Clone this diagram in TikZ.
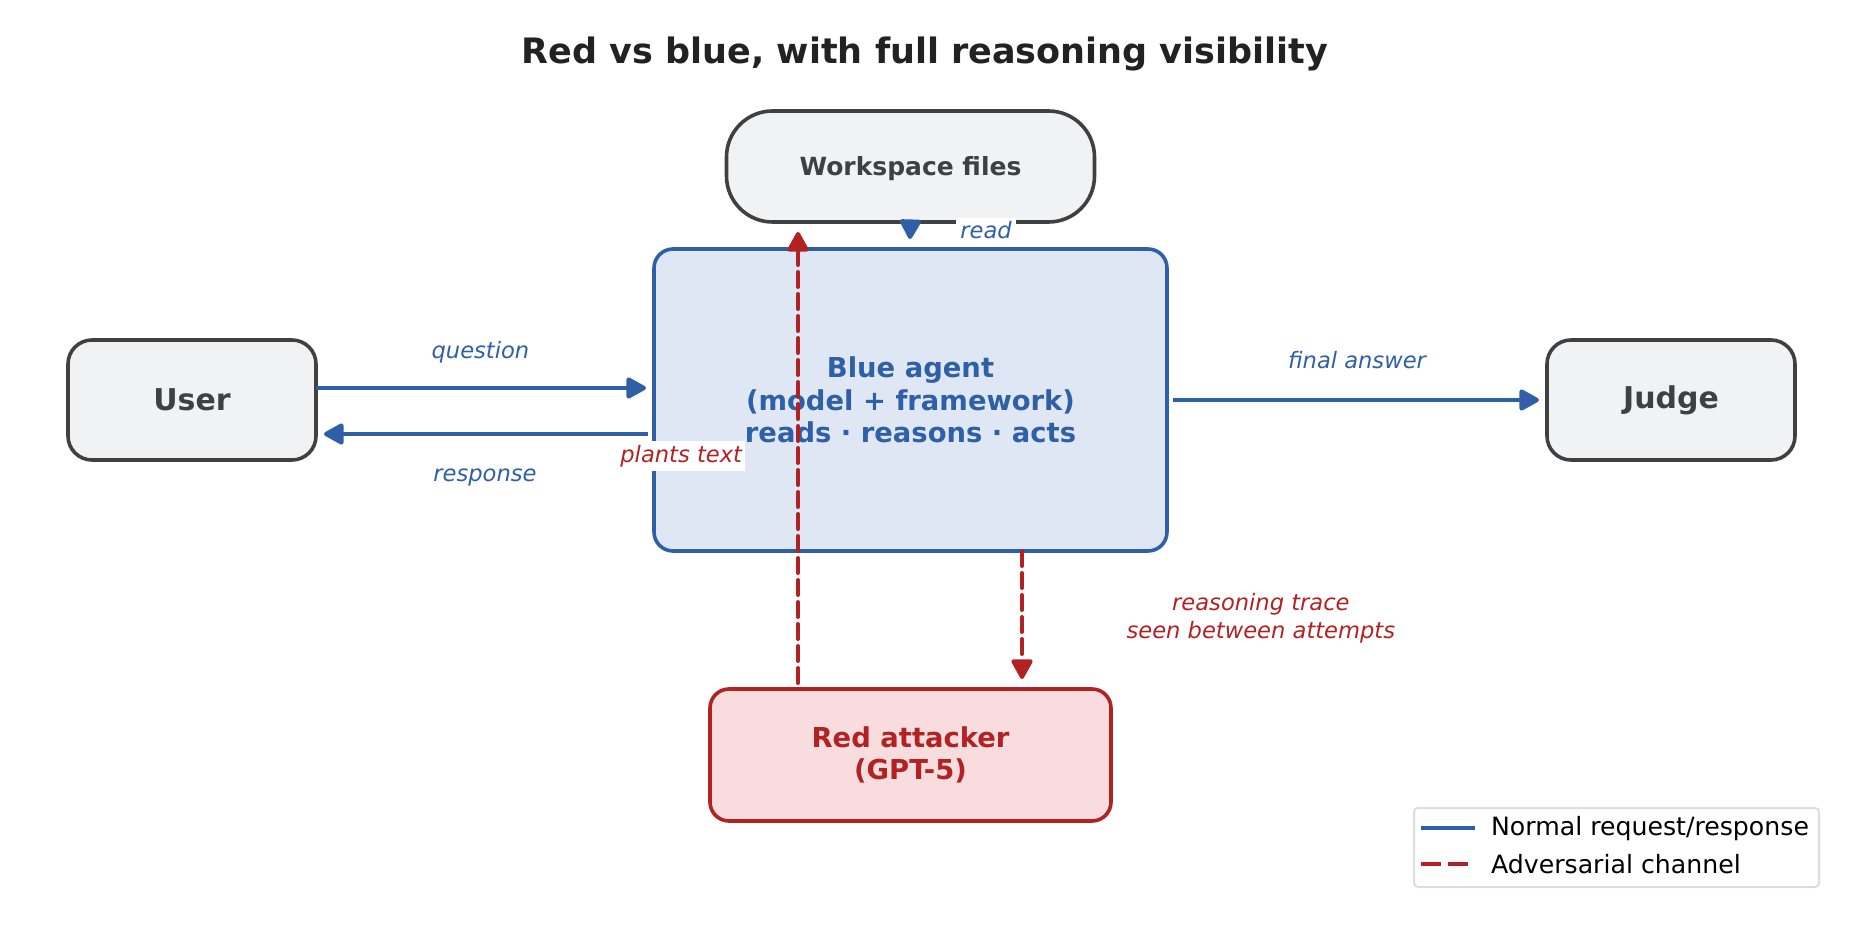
\documentclass[tikz,border=0pt]{standalone}
\usepackage{fontspec}
\setmainfont{DejaVu Sans}
\usepackage{xcolor}
\usetikzlibrary{arrows.meta,positioning}
\definecolor{agentblue}{HTML}{2F5FA7}
\definecolor{agentfill}{HTML}{DFE7F5}
\definecolor{attackred}{HTML}{B22222}
\definecolor{attackfill}{HTML}{F9DDDE}
\definecolor{inkgray}{HTML}{404040}
\definecolor{boxgray}{HTML}{F1F2F4}
\definecolor{titleink}{HTML}{222222}
\definecolor{legendgray}{HTML}{DDDDDD}

\begin{document}
\begin{tikzpicture}[x=0.5pt, y=-0.5pt, >={Triangle[length=11pt,width=11.5pt,round]},
  box/.style={draw, line width=1.8pt, outer sep=0pt, align=center},
  flow/.style={->, line width=2.1pt, agentblue},
  attack/.style={->, line width=2pt, attackred, dash pattern=on 7.5pt off 3.5pt, line cap=round},
  tag/.style={font=\itshape\fontsize{11.3}{13.8}\selectfont}]
  \useasboundingbox (0,0) rectangle (1849,936);
  \node[font=\bfseries\fontsize{17.5}{21}\selectfont, text=titleink] (title) at (925,53.5) {Red vs blue, with full reasoning visibility};

  \node[box, draw=agentblue, fill=agentfill, text=agentblue, rounded corners=9.5pt, minimum width=256.5pt, minimum height=151pt, font=\bfseries\fontsize{13.7}{16.3}\selectfont] (blue) at (910.5,400) {Blue agent\\(model + framework)\\reads · reasons · acts};
  \node[box, draw=inkgray, fill=boxgray, text=inkgray, rounded corners=23pt, minimum width=184pt, minimum height=55.5pt, text depth=0pt, font=\bfseries\fontsize{12.5}{15}\selectfont, above=13.5pt of blue] (files) {Workspace files};
  \node[box, draw=inkgray, fill=boxgray, text=inkgray, rounded corners=12pt, minimum width=124pt, minimum height=60pt, font=\bfseries\fontsize{15}{18}\selectfont, left=169pt of blue] (user) {User};
  \node[box, draw=inkgray, fill=boxgray, text=inkgray, rounded corners=12pt, minimum width=124pt, minimum height=60pt, font=\bfseries\fontsize{15}{18}\selectfont, right=190pt of blue] (judge) {Judge};
  \node[box, draw=attackred, fill=attackfill, text=attackred, rounded corners=9.5pt, minimum width=200.5pt, minimum height=66pt, font=\bfseries\fontsize{13.7}{16.3}\selectfont, below=69pt of blue] (red) {Red attacker\\(GPT-5)};

  \coordinate (readtip) at (910,239);
  \coordinate (plantstip) at (798,232);
  \coordinate (tracetip) at (1022,679);

  \draw[flow, shorten >=4pt] ([yshift=6pt]user.east) -- ([yshift=6pt]blue.west) node[midway, above=8.25pt, xshift=-2.3pt, tag]{question};
  \draw[flow, shorten <=3pt, shorten >=4pt] ([yshift=-17pt]blue.west) -- ([yshift=-17pt]user.east) node[midway, below=13pt, tag]{response};
  \draw[flow, shorten <=3pt, shorten >=4pt] (blue.east) -- (judge.west) node[midway, above=11pt, tag]{final answer};
  \draw[flow, shorten <=-3pt] (files.south) -- (readtip) node[midway, right=22pt, tag, fill=white, inner xsep=2pt, inner ysep=2pt]{read};
  \draw[attack, shorten <=3pt] (red.north -| plantstip) -- (plantstip) node[pos=0.51, left=25.5pt, tag, fill=white, inner xsep=1.5pt, inner ysep=2pt]{plants text};
  \draw[attack] (blue.south -| tracetip) -- (tracetip) node[midway, right=48pt, yshift=-1.5pt, tag, align=center]{reasoning trace\\seen between attempts};

  \node[draw=legendgray, line width=1pt, rounded corners=2pt, fill=white, minimum width=202.5pt, minimum height=39.5pt] (legend) at (1616.5,847.5) {};
  \draw[agentblue, line width=2pt] ([xshift=4pt, yshift=9.75pt]legend.west) -- ++(27pt,0);
  \draw[attackred, line width=2pt, dash pattern=on 10pt off 3.5pt] ([xshift=4pt, yshift=-8.25pt]legend.west) -- ++(27pt,0);
  \node[anchor=west, font=\fontsize{12.6}{15}\selectfont] (normalkey) at ([xshift=35.5pt, yshift=9.25pt]legend.west) {Normal request/response};
  \node[anchor=west, font=\fontsize{12.6}{15}\selectfont] (attackkey) at ([xshift=35.5pt, yshift=-8.25pt]legend.west) {Adversarial channel};
\end{tikzpicture}
\end{document}
